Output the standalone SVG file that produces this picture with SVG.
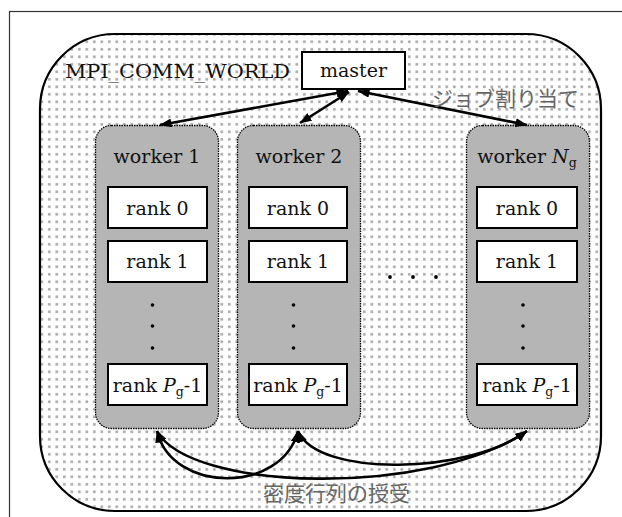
<svg xmlns="http://www.w3.org/2000/svg" width="622" height="517" viewBox="0 0 622 517">
  <defs>
    <pattern id="dots" width="7.5" height="7.5" patternUnits="userSpaceOnUse" x="1" y="1">
      <rect x="2" y="2" width="2.6" height="2.6" fill="#a8a8a8"/>
    </pattern>
    <marker id="head" viewBox="0 0 12 9" refX="11.5" refY="4.5" markerWidth="12" markerHeight="9" markerUnits="userSpaceOnUse" orient="auto-start-reverse">
      <path d="M0,0 L12,4.5 L0,9 z" fill="#000"/>
    </marker>
    <style>
      .lbl { font-family: "DejaVu Serif", "Liberation Serif", serif; font-size: 19px; fill: #111; }
      .jp { font-family: "Noto Sans CJK JP", "Noto Sans CJK SC", sans-serif; font-size: 21px; fill: #666; }
      .worker { fill: #b5b5b5; stroke: #000; stroke-width: 1.3; stroke-dasharray: 1.5 1; }
      .rank { fill: #fff; stroke: #000; stroke-width: 2; }
      .link { fill: none; stroke: #000; stroke-width: 2.6; marker-start: url(#head); marker-end: url(#head); }
      .dot { fill: #000; }
    </style>
  </defs>

  <rect width="622" height="517" fill="#fff"/>
  <!-- page frame -->
  <rect x="9.5" y="11.5" width="700" height="600" fill="none" stroke="#333" stroke-width="1.2"/>

  <!-- communicator area -->
  <g id="comm-world">
    <rect x="40" y="34" width="561" height="477" rx="75" ry="75" fill="#fff"/>
    <rect x="40" y="34" width="561" height="477" rx="75" ry="75" fill="url(#dots)" stroke="#000" stroke-width="2.2"/>
    <text class="lbl" x="65" y="78" font-size="19.5" textLength="225" lengthAdjust="spacingAndGlyphs">MPI_COMM_WORLD</text>
  </g>

  <g id="master">
    <rect class="rank" x="302" y="52" width="103" height="37"/>
    <text class="lbl" x="353.5" y="77" text-anchor="middle">master</text>
  </g>

  <g id="worker-1">
    <rect class="worker" x="95.5" y="125.5" width="123" height="303" rx="16"/>
    <text class="lbl" x="157" y="163" text-anchor="middle" font-size="19.5">worker 1</text>
    <rect class="rank" x="108" y="187" width="99" height="41"/>
    <text class="lbl" x="157.5" y="215" text-anchor="middle">rank 0</text>
    <rect class="rank" x="108" y="241" width="99" height="41"/>
    <text class="lbl" x="157.5" y="268" text-anchor="middle">rank 1</text>
    <circle class="dot" cx="152.5" cy="305" r="1.8"/>
    <circle class="dot" cx="152.5" cy="326" r="1.8"/>
    <circle class="dot" cx="152.5" cy="348" r="1.8"/>
    <rect class="rank" x="108" y="364" width="99" height="41"/>
    <text class="lbl" x="157.5" y="392" text-anchor="middle">rank <tspan font-style="italic">P</tspan><tspan font-size="12.5" dy="4">g</tspan><tspan dy="-4">-1</tspan></text>
  </g>

  <g id="worker-2">
    <rect class="worker" x="237.5" y="125.5" width="123" height="303" rx="16"/>
    <text class="lbl" x="299" y="163" text-anchor="middle" font-size="19.5">worker 2</text>
    <rect class="rank" x="249" y="187" width="98" height="41"/>
    <text class="lbl" x="298" y="215" text-anchor="middle">rank 0</text>
    <rect class="rank" x="249" y="241" width="98" height="41"/>
    <text class="lbl" x="298" y="268" text-anchor="middle">rank 1</text>
    <circle class="dot" cx="293.5" cy="305" r="1.8"/>
    <circle class="dot" cx="293.5" cy="326" r="1.8"/>
    <circle class="dot" cx="293.5" cy="348" r="1.8"/>
    <rect class="rank" x="249" y="364" width="98" height="41"/>
    <text class="lbl" x="298" y="392" text-anchor="middle">rank <tspan font-style="italic">P</tspan><tspan font-size="12.5" dy="4">g</tspan><tspan dy="-4">-1</tspan></text>
  </g>

  <!-- horizontal ellipsis between workers -->
  <g id="ellipsis">
    <circle class="dot" cx="390" cy="277" r="1.9"/>
    <circle class="dot" cx="413" cy="277" r="1.9"/>
    <circle class="dot" cx="436" cy="277" r="1.9"/>
  </g>

  <g id="worker-ng">
    <rect class="worker" x="466.5" y="125.5" width="123" height="303" rx="16"/>
    <text class="lbl" x="527" y="163" text-anchor="middle" font-size="19.5">worker <tspan font-style="italic">N</tspan><tspan font-size="12.5" dy="4">g</tspan></text>
    <rect class="rank" x="477" y="187" width="100" height="41"/>
    <text class="lbl" x="527" y="215" text-anchor="middle">rank 0</text>
    <rect class="rank" x="477" y="241" width="100" height="41"/>
    <text class="lbl" x="527" y="268" text-anchor="middle">rank 1</text>
    <circle class="dot" cx="523" cy="305" r="1.8"/>
    <circle class="dot" cx="523" cy="326" r="1.8"/>
    <circle class="dot" cx="523" cy="348" r="1.8"/>
    <rect class="rank" x="477" y="364" width="100" height="41"/>
    <text class="lbl" x="527" y="392" text-anchor="middle">rank <tspan font-style="italic">P</tspan><tspan font-size="12.5" dy="4">g</tspan><tspan dy="-4">-1</tspan></text>
  </g>

  <!-- connectors: job assignment and density-matrix exchange -->
  <g id="connectors">
    <path class="link" d="M160,125 L348,91"/>
    <path class="link" d="M300,123 L349,92"/>
    <path class="link" d="M358,91 L527,125"/>
    <path class="link" d="M157,431 C172,494 282,494 298,431"/>
    <path class="link" d="M157,431 C190,492 430,497 527,431"/>
    <path class="link" d="M298,431 C318,478 470,474 527,431"/>
  </g>

  <text class="jp" x="432" y="106" font-size="21.5">ジョブ割り当て</text>
  <text class="jp" x="263" y="501">密度行列の授受</text>
</svg>
